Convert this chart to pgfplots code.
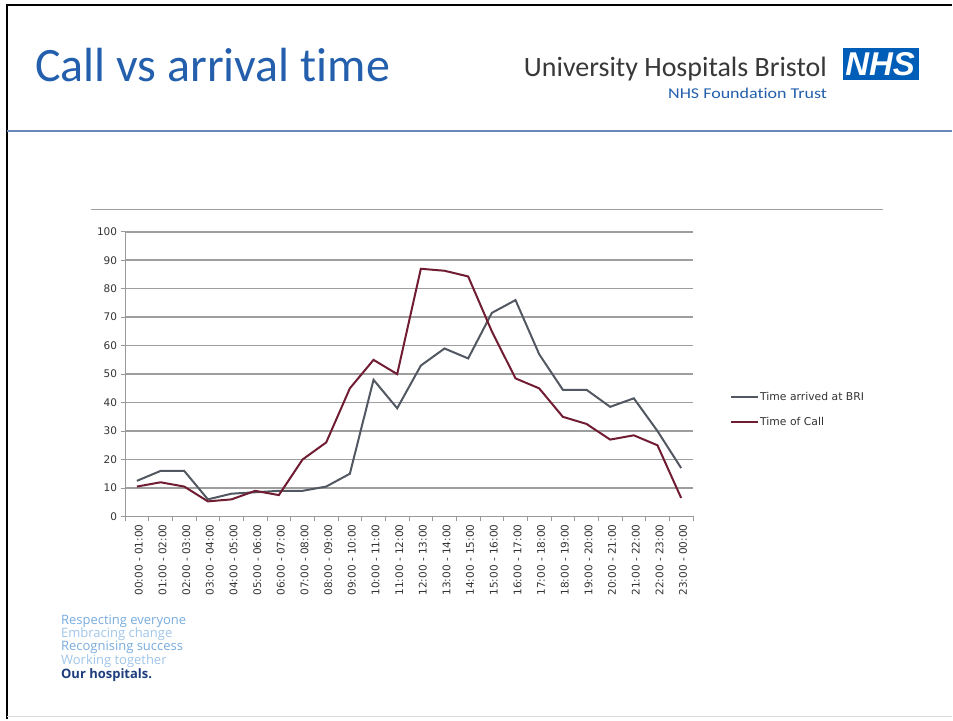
\documentclass[border=0pt]{standalone}
\usepackage{pgfplots}
\usepackage{pgfplotstable}
\usepackage{fontspec}
\pgfplotsset{compat=1.18}
\setmainfont{Carlito}[Ligatures=NoCommon]
\newfontfamily\dejavu{DejaVu Sans}
\newfontfamily\opensans{Open Sans}
\newfontfamily\arial{Liberation Sans}

\definecolor{titleblue}{RGB}{35,95,172}
\definecolor{nhsblue}{RGB}{0,94,184}
\definecolor{rulecol}{RGB}{105,135,185}
\definecolor{arrivedcol}{RGB}{82,88,98}
\definecolor{callcol}{RGB}{112,28,50}
\definecolor{gridcol}{RGB}{158,158,158}
\definecolor{tagblue}{RGB}{120,172,222}
\definecolor{taglight}{RGB}{160,198,234}
\definecolor{tagnavy}{RGB}{30,62,125}

% hour index, arrivals at BRI, calls received
\pgfplotstableread{
hour arrived call
0  12.5 10.5
1  16   12
2  16   10.5
3  6    5.3
4  8    6
5  8.5  9
6  9    7.5
7  9    20
8  10.5 26
9  15   45
10 48   55
11 38   50
12 53   87
13 59   86.3
14 55.5 84.3
15 71.5 65
16 76   48.5
17 57   45
18 44.5 35
19 44.5 32.5
20 38.5 27
21 41.5 28.5
22 30   25
23 17   6.5
}\hourly

\begin{document}
\begin{tikzpicture}
% slide canvas
\fill[white] (0pt,0pt) rectangle (953pt,720pt);
\draw[black, line width=2pt] (7pt,0pt) -- (7pt,715pt) -- (953pt,715pt);
\draw[black!15, line width=1pt] (7pt,3pt) -- (953pt,3pt);

% header
\node[anchor=base west, inner sep=0pt, text=titleblue]
  at (35pt,638pt) {\fontsize{48}{50}\selectfont Call vs arrival time};
\node[anchor=base east, inner sep=0pt, text=black!78]
  at (828pt,643pt) {\fontsize{28}{30}\selectfont University Hospitals Bristol};
\node[anchor=base east, inner sep=0pt, text=titleblue]
  at (828pt,621pt) {\scalebox{1.2}[1]{\fontsize{15}{17}\selectfont NHS Foundation Trust}};
\fill[nhsblue] (844pt,640pt) rectangle (920pt,672pt);
\node[text=white, inner sep=0pt] at (881pt,656pt)
  {\arial\bfseries\itshape\fontsize{33}{34}\selectfont NHS};
\draw[rulecol, line width=2pt] (7pt,589pt) -- (953pt,589pt);

% chart area top edge
\draw[gray!75, line width=1.3pt] (91pt,510pt) -- (884pt,510pt);

\begin{axis}[
  at={(125.2pt,203pt)}, anchor=south west,
  scale only axis, width=568.5pt, height=285pt,
  xmin=-0.5, xmax=23.5, ymin=0, ymax=100,
  axis lines*=left,
  axis line style={gray!80, line width=1pt},
  xtick={-0.5,0.5,...,23.5},
  x tick label as interval=true,
  xticklabels={00:00 - 01:00,01:00 - 02:00,02:00 - 03:00,03:00 - 04:00,
    04:00 - 05:00,05:00 - 06:00,06:00 - 07:00,07:00 - 08:00,08:00 - 09:00,
    09:00 - 10:00,10:00 - 11:00,11:00 - 12:00,12:00 - 13:00,13:00 - 14:00,
    14:00 - 15:00,15:00 - 16:00,16:00 - 17:00,17:00 - 18:00,18:00 - 19:00,
    19:00 - 20:00,20:00 - 21:00,21:00 - 22:00,22:00 - 23:00,23:00 - 00:00},
  x tick label style={rotate=90, anchor=east, yshift=-2pt},
  ytick={0,10,...,100},
  tick align=outside,
  major tick length=4.5pt,
  tick style={gray!80, line width=0.9pt},
  ymajorgrids,
  grid style={gridcol, line width=1.5pt},
  ticklabel style={font=\dejavu\fontsize{10.5}{12}\selectfont, text=black!80},
  /pgf/number format/assume math mode=true,
  legend style={at={(1.06,0.375)}, anchor=west, draw=none, fill=none,
    font=\dejavu\fontsize{10.8}{12}\selectfont, text=black!80,
    row sep=11pt, nodes={inner xsep=1pt}},
  legend cell align=left,
  legend image code/.code={\draw[#1, line width=2pt] (0pt,0pt) -- (27pt,0pt);},
]
\addplot[arrivedcol, line width=2pt] table[x=hour, y=arrived] {\hourly};
\addlegendentry{Time arrived at BRI}
\addplot[callcol, line width=2pt] table[x=hour, y=call] {\hourly};
\addlegendentry{Time of Call}
\end{axis}

% footer values
\begin{scope}[every node/.style={anchor=base west, inner sep=0pt}]
\node[text=tagblue]  at (61pt,95pt) {\opensans\fontsize{13}{13}\selectfont Respecting everyone};
\node[text=taglight] at (61pt,82pt) {\opensans\fontsize{13}{13}\selectfont Embracing change};
\node[text=tagblue]  at (61pt,69pt) {\opensans\fontsize{13}{13}\selectfont Recognising success};
\node[text=taglight] at (61pt,55pt) {\opensans\fontsize{13}{13}\selectfont Working together};
\node[text=tagnavy]  at (61pt,41pt) {\opensans\bfseries\fontsize{13}{13}\selectfont Our hospitals.};
\end{scope}
\end{tikzpicture}
\end{document}
